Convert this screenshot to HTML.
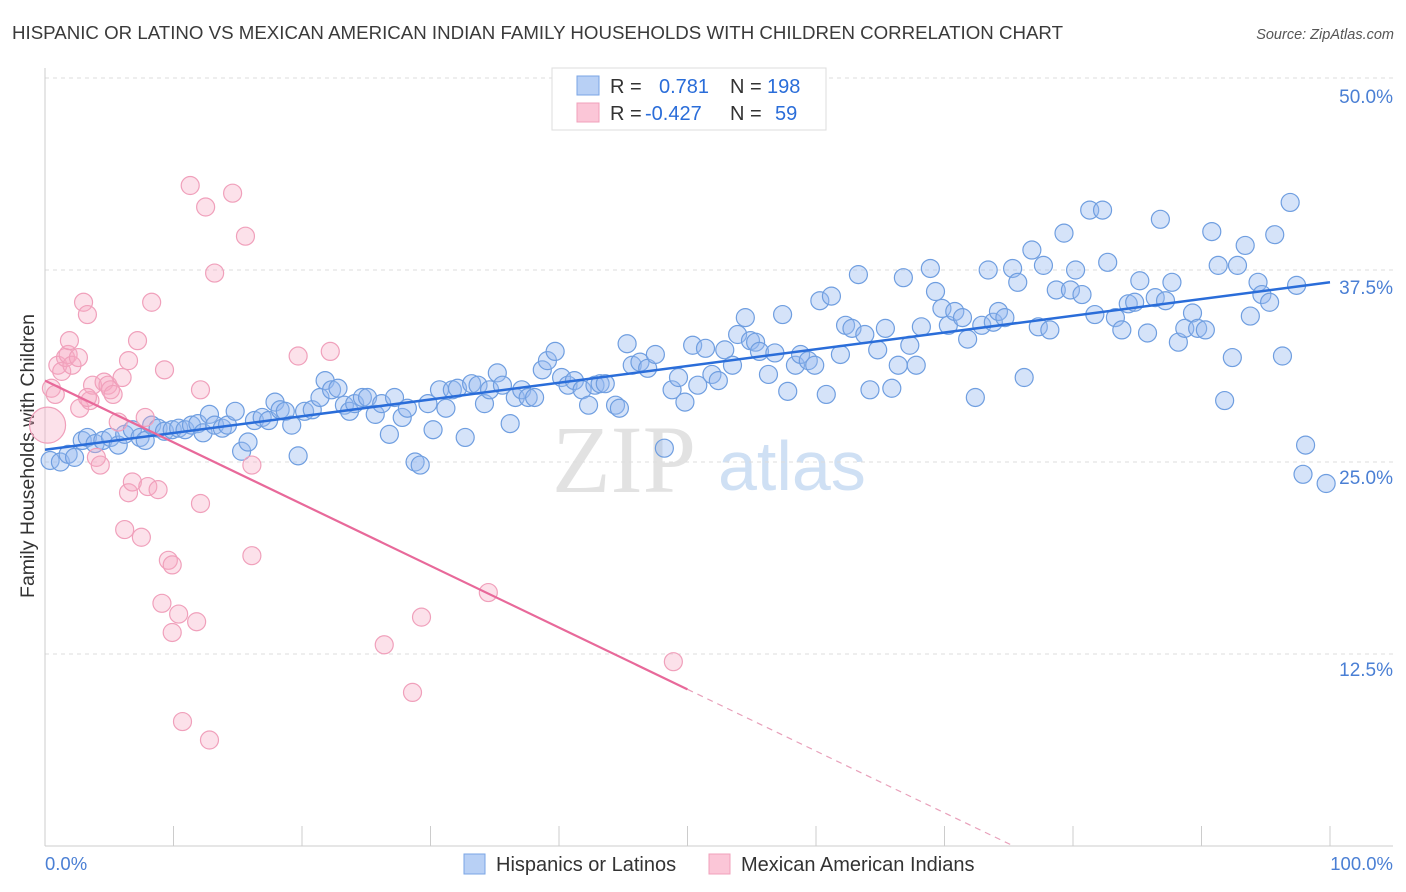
<!DOCTYPE html>
<html><head><meta charset="utf-8"><style>
body{margin:0;background:#fff;font-family:"Liberation Sans",sans-serif;}
svg{display:block}
</style></head><body>
<svg id="chart" width="1406" height="892">
<text x="12" y="39" font-size="18" textLength="1051" lengthAdjust="spacingAndGlyphs" fill="#3a3a3a">HISPANIC OR LATINO VS MEXICAN AMERICAN INDIAN FAMILY HOUSEHOLDS WITH CHILDREN CORRELATION CHART</text>
<text x="1394" y="39" font-size="14.5" fill="#555" font-style="italic" text-anchor="end">Source: ZipAtlas.com</text>
<text transform="translate(34,456) rotate(-90)" font-size="19.5" fill="#333" text-anchor="middle">Family Households with Children</text>
<g>
<text x="552" y="492" font-size="96" font-family="Liberation Serif" fill="#d6d6d6" opacity="0.7">ZIP</text>
<text x="718" y="490" font-size="70" fill="#bcd3f0" opacity="0.7">atlas</text>
</g>
<g id="grid"></g>
<g id="axes"></g>
<g id="pts"></g>
<g id="lines"></g>
<g>
<rect x="552" y="68" width="274" height="62" fill="#fff" stroke="#ddd"/>
<rect x="577" y="76" width="22" height="19" fill="#b8d0f5" stroke="#7aa5e5"/>
<rect x="577" y="103" width="22" height="19" fill="#fbc6d7" stroke="#f0a0bb"/>
<text x="610" y="93" font-size="20" fill="#333">R = </text><text x="659" y="93" font-size="20" fill="#2a6dd9">0.781</text>
<text x="730" y="93" font-size="20" fill="#333">N = </text><text x="767" y="93" font-size="20" fill="#2a6dd9">198</text>
<text x="610" y="120" font-size="20" fill="#333">R = </text><text x="645" y="120" font-size="20" fill="#2a6dd9">-0.427</text>
<text x="730" y="120" font-size="20" fill="#333">N = </text><text x="775" y="120" font-size="20" fill="#2a6dd9">59</text>
</g>
<g>
<rect x="464" y="854" width="21" height="20" fill="#b8d0f5" stroke="#7aa5e5"/>
<text x="496" y="871" font-size="20" fill="#333">Hispanics or Latinos</text>
<rect x="709" y="854" width="21" height="20" fill="#fbc6d7" stroke="#f0a0bb"/>
<text x="741" y="871" font-size="20" fill="#333">Mexican American Indians</text>
</g>
</svg>
<script>
const blueX=[0.4,1.2,1.8,2.3,2.9,3.3,3.9,4.5,5.1,5.7,6.2,6.8,7.4,7.8,8.3,8.8,9.3,9.9,10.4,10.9,11.4,11.9,12.3,12.8,13.2,13.8,14.2,14.8,15.3,15.8,16.3,16.9,17.4,17.9,18.3,18.7,19.2,19.7,20.2,20.8,21.4,21.8,22.3,22.8,23.3,23.7,24.1,24.7,25.1,25.7,26.2,26.8,27.2,27.8,28.2,28.8,29.2,29.8,30.2,30.7,31.2,31.7,32.1,32.7,33.2,33.7,34.2,34.6,35.2,35.6,36.2,36.6,37.1,37.6,38.1,38.7,39.1,39.7,40.2,40.7,41.2,41.8,42.3,42.8,43.2,43.6,44.4,44.7,45.3,45.7,46.3,46.9,47.5,48.2,48.8,49.3,49.8,50.4,50.8,51.4,51.9,52.4,52.9,53.5,53.9,54.5,54.9,55.3,55.6,56.3,56.8,57.4,57.8,58.4,58.8,59.4,59.9,60.3,60.8,61.2,61.9,62.3,62.8,63.3,63.8,64.2,64.8,65.4,65.9,66.4,66.8,67.3,67.8,68.2,68.9,69.3,69.8,70.3,70.8,71.4,71.8,72.4,72.9,73.4,73.8,74.2,74.7,75.3,75.7,76.2,76.8,77.3,77.7,78.2,78.7,79.3,79.8,80.2,80.7,81.3,81.7,82.3,82.7,83.3,83.8,84.3,84.8,85.2,85.8,86.4,86.8,87.2,87.7,88.2,88.7,89.3,89.7,90.3,90.8,91.3,91.8,92.4,92.8,93.4,93.8,94.4,94.7,95.3,95.7,96.3,96.9,97.4,98.1,97.9,99.7];
const blueY=[25.1,25.0,25.5,25.3,26.4,26.6,26.2,26.4,26.6,26.1,26.8,27.1,26.6,26.4,27.4,27.2,27.0,27.1,27.2,27.1,27.4,27.5,26.9,28.1,27.4,27.2,27.4,28.3,25.7,26.3,27.7,27.9,27.7,28.9,28.4,28.3,27.4,25.4,28.3,28.4,29.2,30.3,29.7,29.8,28.7,28.3,28.8,29.2,29.2,28.1,28.8,26.8,29.2,27.9,28.5,25.0,24.8,28.8,27.1,29.7,28.5,29.7,29.8,26.6,30.1,30.0,28.8,29.7,30.8,30.0,27.5,29.2,29.7,29.2,29.2,31.0,31.6,32.2,30.5,30.0,30.3,29.7,28.7,30.0,30.1,30.1,28.7,28.5,32.7,31.3,31.5,31.1,32.0,25.9,29.7,30.5,28.9,32.6,30.0,32.4,30.7,30.3,32.3,31.3,33.3,34.4,32.9,32.8,32.2,30.7,32.1,34.6,29.6,31.3,32.0,31.6,31.3,35.5,29.4,35.8,32.0,33.9,33.7,37.2,33.3,29.7,32.3,33.7,29.8,31.3,37.0,32.6,31.3,33.8,37.6,36.1,35.0,33.9,34.8,34.4,33.0,29.2,33.9,37.5,34.1,34.8,34.4,37.6,36.7,30.5,38.8,33.8,37.8,33.6,36.2,39.9,36.2,37.5,35.9,41.4,34.6,41.4,38.0,34.4,33.6,35.3,35.4,36.8,33.4,35.7,40.8,35.5,36.7,32.8,33.7,34.7,33.7,33.6,40.0,37.8,29.0,31.8,37.8,39.1,34.5,36.7,35.9,35.4,39.8,31.9,41.9,36.5,26.1,24.2,23.6];
const pinkX=[0.2,0.5,0.8,1.0,1.3,1.6,1.8,2.1,2.6,2.7,3.0,3.3,3.5,3.7,4.0,4.3,4.6,4.9,5.1,5.3,5.7,6.0,6.2,6.5,6.5,6.8,7.2,7.5,7.8,8.0,8.3,8.8,9.3,9.6,9.9,9.9,10.4,10.7,11.3,11.8,12.1,12.1,12.5,12.8,13.2,14.6,15.6,16.1,16.1,19.7,22.2,26.4,28.6,29.3,34.5,48.9,1.9,9.1,3.3];
const pinkY=[27.4,29.8,29.4,31.3,30.9,31.8,32.0,31.3,31.8,28.5,35.4,34.6,29.0,30.0,25.3,24.8,30.2,30.0,29.7,29.4,27.6,30.5,20.6,31.6,23.0,23.7,32.9,20.1,27.9,23.4,35.4,23.2,31.0,18.6,18.3,13.9,15.1,8.1,43.0,14.6,29.7,22.3,41.6,6.9,37.3,42.5,39.7,24.8,18.9,31.9,32.2,13.1,10.0,14.9,16.5,12.0,32.9,15.8,29.2];
const pinkR=[18];
const xTicks=[0,10,20,30,40,50,60,70,80,90,100];
const yTicks=[12.5,25,37.5,50];
const yTickLabels=["12.5%","25.0%","37.5%","50.0%"];
const blueTrend=[25.8,36.7];
const pinkTrend=[30.3,-0.402];
const pinkSolidEnd=50;

const NS="http://www.w3.org/2000/svg";
const X0=45,X1=1330,Y0=846,YS=15.36;
const sx=v=>X0+(X1-X0)*v/100, sy=v=>Y0-v*YS;
function mk(tag,attrs,parent){const e=document.createElementNS(NS,tag);for(const k in attrs)e.setAttribute(k,attrs[k]);parent.appendChild(e);return e;}
const grid=document.getElementById('grid'),axes=document.getElementById('axes'),pts=document.getElementById('pts'),lines=document.getElementById('lines');
mk('line',{x1:45,y1:78,x2:1393,y2:78,stroke:'#ddd','stroke-dasharray':'4,4'},grid);
yTicks.forEach((t,i)=>{
  const g=mk('line',{x1:45,y1:sy(t),x2:1393,y2:sy(t),stroke:'#ddd','stroke-dasharray':'4,4'},grid);
  
  
  const tx=mk('text',{x:1393,y:sy(t)+(t==50?25:t==37.5?24:22),'font-size':19,fill:'#4a7fd4','text-anchor':'end'},axes);
  tx.textContent=yTickLabels[i];
  
  
});
mk('line',{x1:45,y1:68,x2:45,y2:846,stroke:'#ccc'},axes);
mk('line',{x1:45,y1:846,x2:1393,y2:846,stroke:'#ccc'},axes);
xTicks.forEach(t=>{const l=mk('line',{x1:sx(t),y1:826,x2:sx(t),y2:846,stroke:'#ccc'},axes);
  
  });
const xl=mk('text',{x:45,y:870,'font-size':18.5,fill:'#4a7fd4'},axes);xl.textContent='0.0%';


const xr=mk('text',{x:1393,y:870,'font-size':18.5,fill:'#4a7fd4','text-anchor':'end'},axes);xr.textContent='100.0%';


blueX.forEach((v,i)=>{const c=mk('circle',{cx:sx(v),cy:sy(blueY[i]),r:9,fill:'rgba(150,185,240,0.4)',stroke:'#6f9ee0','stroke-width':1.2},pts);
  
  });
pinkX.forEach((v,i)=>{const c=mk('circle',{cx:sx(v),cy:sy(pinkY[i]),r:i<pinkR.length?pinkR[i]:9,fill:'rgba(245,170,195,0.35)',stroke:'#f0a0bb','stroke-width':1.2},pts);
  
  });
const bl=mk('line',{x1:sx(0),y1:sy(blueTrend[0]),x2:sx(100),y2:sy(blueTrend[1]),stroke:'#2a6dd9','stroke-width':2.5},lines);


const pe=pinkTrend[0]+pinkTrend[1]*pinkSolidEnd;
const pl=mk('line',{x1:sx(0),y1:sy(pinkTrend[0]),x2:sx(pinkSolidEnd),y2:sy(pe),stroke:'#e8699a','stroke-width':2.2},lines);


const xz=-pinkTrend[0]/pinkTrend[1];
const pd=mk('line',{x1:sx(pinkSolidEnd),y1:sy(pe),x2:sx(xz),y2:sy(0),stroke:'#e8a0ba','stroke-width':1.2,'stroke-dasharray':'6,5'},lines);


</script>
</body></html>
